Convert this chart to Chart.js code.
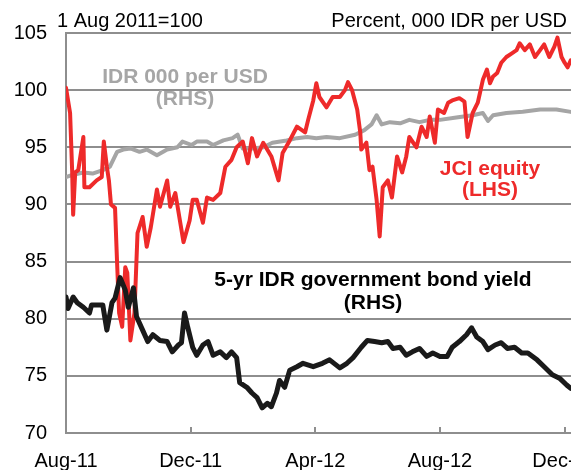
<!DOCTYPE html>
<html>
<head>
<meta charset="utf-8">
<script src="https://cdn.jsdelivr.net/npm/chart.js"></script>
<style>
  html, body { margin: 0; padding: 0; background: #fff; overflow: hidden; }
  .wrap { position: relative; width: 640px; height: 470px; }
</style>
</head>
<body>
<div class="wrap"><canvas id="chart"></canvas></div>
<script>
// x values are days counted from 1 Aug 2011
const tickDays = [0, 122, 244, 366, 488];
const tickLabels = ["Aug-11", "Dec-11", "Apr-12", "Aug-12", "Dec-12"];

// JCI equity (LHS), 1 Aug 2011 = 100
const jciDays = [0,4,6,7,9,12,17,18,23,30,35,37,40,42,44,48,50,52,55,58,60,63,67,70,75,79,83,89,92,99,102,107,115,121,124,128,134,138,144,151,156,162,167,173,178,182,187,193,201,208,212,219,226,234,237,242,245,248,255,261,268,273,276,280,285,288,289,294,297,300,304,307,310,315,319,324,329,333,336,343,348,353,356,361,364,370,374,378,385,390,393,398,403,408,412,415,418,422,426,431,436,441,444,449,454,459,464,468,473,478,481,485,488,491,494];
const jciValues = [100.2,98.0,93.0,89.1,92.8,93.0,95.9,91.5,91.5,92.1,92.4,95.5,93.3,92.1,90.0,89.7,84.9,80.5,79.3,84.5,84.0,78.1,80.5,87.5,88.9,86.3,88.0,91.3,89.8,92.1,89.8,91.0,86.7,88.6,90.4,90.4,88.4,90.6,90.4,91.0,93.3,93.9,95.0,95.5,93.6,95.8,94.2,95.4,94.2,92.1,94.5,95.6,96.8,96.3,97.4,99.1,100.6,99.4,98.5,99.4,99.4,100.0,100.7,100.0,98.3,96.3,94.8,95.4,93.0,93.3,90.4,87.2,91.5,92.1,90.6,94.2,92.8,94.2,95.9,95.0,96.8,95.9,97.7,95.4,98.3,98.0,98.9,99.1,99.3,99.0,95.9,98.0,98.9,100.9,101.8,100.6,101.2,101.5,102.4,102.9,103.2,103.5,104.1,103.5,104.0,102.9,103.5,104.0,102.9,103.8,104.6,102.9,102.4,102.0,102.6];

const idrDays = [0,7,17,26,36,43,50,56,63,72,79,89,99,109,114,123,128,138,144,154,163,168,173,183,193,202,216,226,236,245,255,268,283,292,299,304,309,317,327,336,346,356,366,382,398,408,413,418,431,447,464,480,494];
const idrValues = [92.4,92.6,92.8,92.7,93.0,93.3,94.6,94.8,94.9,94.6,94.8,94.3,94.8,95.0,95.5,95.2,95.5,95.5,95.2,95.6,95.8,96.1,94.9,94.9,95.0,95.4,95.6,95.8,95.9,95.8,95.9,95.8,96.1,96.5,97.0,97.8,97.0,97.2,97.1,97.4,97.2,97.4,97.4,97.6,97.8,98.0,97.3,97.8,98.0,98.1,98.3,98.3,98.1];

const bondDays = [0,2,7,11,17,23,25,36,40,45,48,53,58,61,66,69,75,80,85,92,99,104,110,113,116,119,124,128,134,139,144,151,157,162,167,170,177,182,187,192,197,201,206,209,214,219,226,232,242,251,258,268,275,281,289,295,302,309,315,320,327,333,339,346,353,359,366,373,378,385,392,397,402,408,413,420,426,432,439,446,452,461,468,476,483,490,494];
const bondValues = [81.9,80.9,81.9,81.4,81.0,80.5,81.2,81.2,79.0,81.4,81.8,83.6,82.5,81.0,82.7,80.2,79.0,78.0,78.6,78.1,78.0,77.1,77.7,77.9,80.5,79.3,77.5,76.8,77.7,78.0,76.8,77.1,76.6,77.1,76.6,74.4,74.0,73.5,73.1,72.2,72.6,72.3,73.5,74.6,74.0,75.5,75.8,76.1,75.8,76.1,76.4,75.7,76.1,76.6,77.5,78.1,78.0,77.9,78.0,77.4,77.5,76.8,77.1,77.4,76.7,77.0,76.7,76.7,77.5,78.0,78.6,79.2,78.4,78.0,77.3,77.7,77.9,77.4,77.5,77.0,77.0,76.4,75.8,75.1,74.8,74.2,73.9];

const gridColor = "#8e8e8e";
const fontFamily = '"Liberation Sans", Arial, sans-serif';

const toPoints = (days, values) => days.map((d, i) => ({ x: d, y: values[i] }));

const lineStyle = (color, width) => ({
  borderColor: color,
  borderWidth: width,
  pointRadius: 0,
  tension: 0,
  borderJoinStyle: "round",
  borderCapStyle: "round",
  fill: false,
});

const textPlugin = {
  id: "texts",
  afterDraw(chart) {
    const ctx = chart.ctx;
    const xs = chart.scales.x;
    const area = chart.chartArea;
    ctx.save();

    // small tick marks pointing into the plot
    ctx.strokeStyle = gridColor;
    ctx.lineWidth = 2;
    tickDays.slice(1).forEach(d => {
      const px = Math.round(xs.getPixelForValue(d));
      ctx.beginPath();
      ctx.moveTo(px, area.bottom);
      ctx.lineTo(px, area.bottom - 6);
      ctx.stroke();
    });

    ctx.fillStyle = "#000";
    ctx.font = "20px " + fontFamily;
    ctx.textBaseline = "alphabetic";
    ctx.textAlign = "left";
    ctx.fillText("1 Aug 2011=100", 57, 27);
    ctx.textAlign = "right";
    ctx.fillText("Percent, 000 IDR per USD", 567, 27);

    ctx.textAlign = "center";
    ctx.font = "bold 21px " + fontFamily;
    ctx.fillStyle = "#a6a6a6";
    ctx.fillText("IDR 000 per USD", 185, 83);
    ctx.fillText("(RHS)", 185, 105);

    ctx.fillStyle = "#ee2a2a";
    ctx.fillText("JCI equity", 490, 175);
    ctx.fillText("(LHS)", 490, 196);

    ctx.fillStyle = "#000";
    ctx.fillText("5-yr IDR government bond yield", 373, 286);
    ctx.fillText("(RHS)", 373, 309);
    ctx.restore();
  }
};

new Chart(document.getElementById("chart"), {
  type: "line",
  data: {
    datasets: [
      { label: "5-yr IDR government bond yield", data: toPoints(bondDays, bondValues), ...lineStyle("#1a1a1a", 5) },
      { label: "JCI equity", data: toPoints(jciDays, jciValues), ...lineStyle("#ee2a2a", 4) },
      { label: "IDR 000 per USD", data: toPoints(idrDays, idrValues), ...lineStyle("#a5a5a5", 4) },
    ],
  },
  options: {
    responsive: true,
    maintainAspectRatio: false,
    animation: false,
    devicePixelRatio: 1,
    layout: { padding: { left: 0, top: 33, right: 10, bottom: 0 } },
    plugins: {
      legend: { display: false },
      tooltip: { enabled: false },
    },
    scales: {
      x: {
        type: "linear",
        min: 0,
        max: 552,
        grid: { display: false, drawTicks: false },
        border: { display: true, color: gridColor, width: 2 },
        afterBuildTicks: s => { s.ticks = tickDays.map(v => ({ value: v })); },
        afterFit: s => { s.height = 37; },
        ticks: {
          autoSkip: false,
          maxRotation: 0,
          padding: 16,
          color: "#000",
          font: { family: fontFamily, size: 20 },
          callback: v => tickLabels[tickDays.indexOf(v)],
        },
      },
      y: {
        min: 70,
        max: 105,
        grid: { color: gridColor, lineWidth: 2, drawTicks: false },
        border: { display: true, color: gridColor, width: 2 },
        afterFit: s => { s.width = 66; },
        ticks: {
          stepSize: 5,
          padding: 19,
          color: "#000",
          font: { family: fontFamily, size: 20 },
        },
      },
    },
  },
  plugins: [textPlugin],
});
</script>
</body>
</html>
